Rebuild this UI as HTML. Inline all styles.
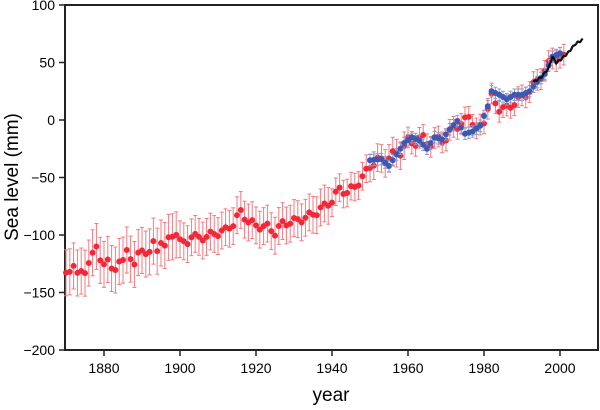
<!DOCTYPE html><html><head><style>body{margin:0;background:#fff}svg{font-family:"Liberation Sans",sans-serif}</style></head><body>
<svg id="s" width="600" height="405" xmlns="http://www.w3.org/2000/svg">
<rect x="65" y="5" width="533" height="345" fill="none" stroke="#222" stroke-width="2"/>
<g id="g"></g>
<text x="18" y="177" font-size="19" text-anchor="middle" transform="rotate(-90 18 177)">Sea level (mm)</text>
<text x="331" y="401" font-size="19" text-anchor="middle">year</text>
</svg>
<script>
var X=y=>104+(y-1880)*3.8, Y=v=>350-(v+200)*1.15, h='';
for(var v=-200;v<=100;v+=50){h+=`<line x1="59" x2="65" y1="${Y(v)}" y2="${Y(v)}" stroke="#222" stroke-width="1.5"/><text x="55" y="${Y(v)+5}" font-size="14" text-anchor="end">${v<0?'\u2212'+(-v):v}</text>`}
for(var t=1880;t<=2000;t+=20){h+=`<line x1="${X(t)}" x2="${X(t)}" y1="350" y2="356" stroke="#222" stroke-width="1.5"/><text x="${X(t)}" y="373" font-size="14" text-anchor="middle">${t}</text>`}
var rk=[[1870,-132],[1871,-135],[1872,-127],[1873,-130],[1874,-132],[1875,-136],[1876,-123],[1877,-113],[1878,-112],[1879,-124],[1880,-123],[1881,-120],[1882,-132],[1883,-131],[1884,-120],[1885,-122],[1886,-116],[1887,-120],[1888,-123],[1889,-117],[1892,-113],[1893,-108],[1894,-115],[1895,-104],[1896,-109],[1897,-105],[1898,-101],[1899,-97],[1900,-105],[1901,-108],[1902,-106],[1903,-100],[1905,-103],[1908,-100],[1910,-98],[1912,-96],[1914,-90],[1916,-80],[1918,-88],[1920,-92],[1923,-93],[1925,-98],[1927,-90],[1930,-88],[1933,-85],[1936,-80],[1938,-75],[1940,-70],[1942,-60],[1944,-63],[1946,-58],[1948,-50],[1950,-40],[1952,-35],[1954,-35],[1956,-30],[1958,-28],[1960,-18],[1962,-20],[1964,-15],[1966,-22],[1968,-15],[1970,-18],[1972,-5],[1974,-5],[1976,5],[1978,-10],[1980,0],[1982,20],[1984,10],[1986,10],[1988,15],[1990,20],[1992,25],[1994,35],[1996,42],[1998,55],[2000,52],[2001,55]];
function interp(a,y){for(var i=0;i<a.length-1;i++)if(y>=a[i][0]&&y<=a[i+1][0]){var f=(y-a[i][0])/(a[i+1][0]-a[i][0]);return a[i][1]+f*(a[i+1][1]-a[i][1])}return a[a.length-1][1]}
var rc='#f0283a',re='#f3797f';
for(var y=1870;y<=2001;y++){var v=interp(rk,y)+Math.sin(y*1.7)*3,e=y<1900?20:y<1940?16:y<1960?12:9;
var x=X(y);h+=`<line x1="${x}" x2="${x}" y1="${Y(v+e)}" y2="${Y(v-e)}" stroke="${re}" stroke-width="1"/><line x1="${x-2}" x2="${x+2}" y1="${Y(v+e)}" y2="${Y(v+e)}" stroke="${re}"/><line x1="${x-2}" x2="${x+2}" y1="${Y(v-e)}" y2="${Y(v-e)}" stroke="${re}"/><circle cx="${x}" cy="${Y(v)}" r="3" fill="${rc}"/>`}
var bk=[[1950,-35],[1953,-34],[1955,-40],[1957,-30],[1959,-20],[1961,-15],[1963,-18],[1965,-25],[1967,-15],[1969,-17],[1971,-8],[1973,-1],[1975,-12],[1977,-10],[1979,-5],[1981,12],[1982,25],[1984,22],[1986,18],[1988,22],[1990,22],[1992,25],[1994,33],[1996,40],[1998,55],[2000,58]];
for(var y=1950;y<=2000;y+=1){var v=interp(bk,y),x=X(y),e=5;
h+=`<line x1="${x}" x2="${x}" y1="${Y(v+e)}" y2="${Y(v-e)}" stroke="#8a9ad0" stroke-width="1"/><line x1="${x-2}" x2="${x+2}" y1="${Y(v+e)}" y2="${Y(v+e)}" stroke="#8a9ad0"/><line x1="${x-2}" x2="${x+2}" y1="${Y(v-e)}" y2="${Y(v-e)}" stroke="#8a9ad0"/><circle cx="${x}" cy="${Y(v)}" r="3" fill="#3d58b0"/>`}
var bl=[[1993,33],[1995,37],[1997,45],[1998,55],[1999,50],[2000,52],[2002,58],[2004,66],[2006,70]],p='';
for(var y=1993;y<=2006;y+=0.25)p+=(p?'L':'M')+X(y)+','+Y(interp(bl,y)+Math.sin(y*5)*0.8);
h+=`<path d="${p}" fill="none" stroke="#111" stroke-width="2.2"/>`;
document.getElementById('g').innerHTML=h;
</script></body></html>
